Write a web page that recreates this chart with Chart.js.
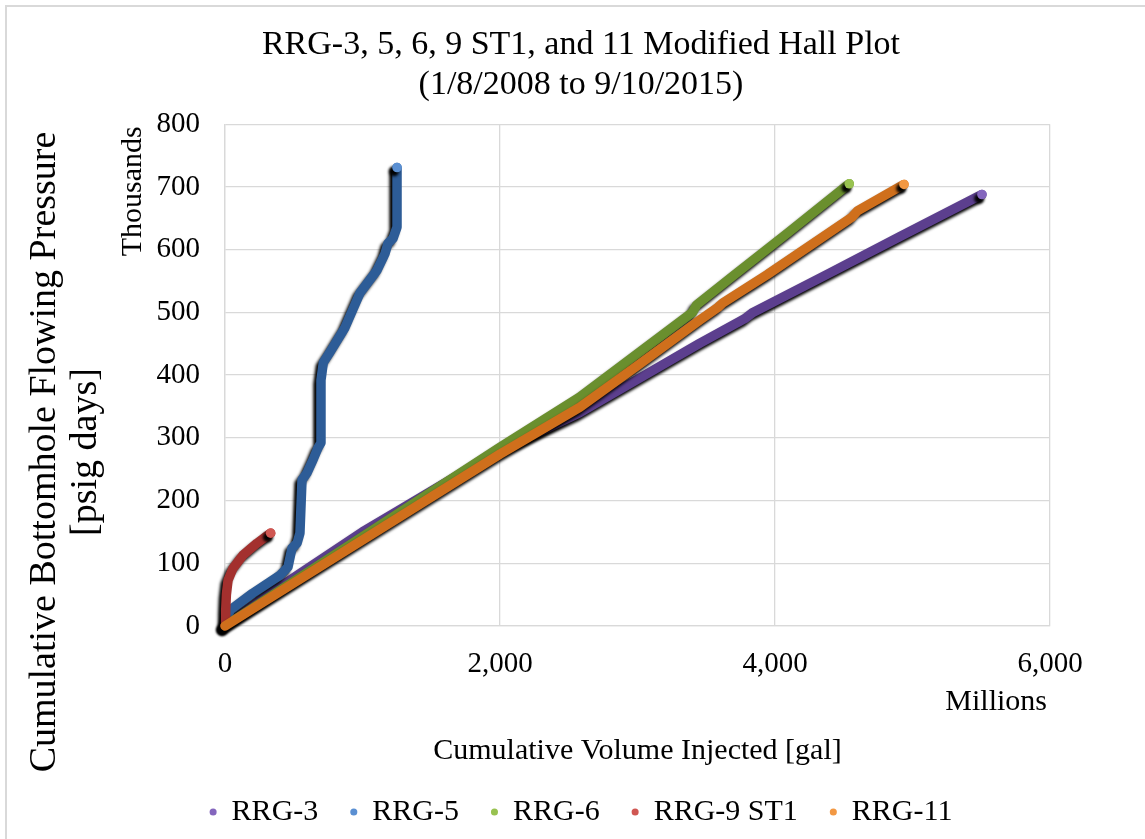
<!DOCTYPE html>
<html>
<head>
<meta charset="utf-8">
<title>RRG Modified Hall Plot</title>
<script src="https://cdn.jsdelivr.net/npm/chart.js@4.4.0/dist/chart.umd.min.js"></script>
<style>
  html, body { margin: 0; padding: 0; background: #ffffff; }
  canvas { display: block; }
</style>
</head>
<body>
<canvas id="hall" width="1145" height="839"></canvas>
<script>
// Cumulative volume injected (millions of gal) vs cumulative bottomhole flowing pressure (thousands of psig days)
const wellNames = ['RRG-3', 'RRG-5', 'RRG-6', 'RRG-9 ST1', 'RRG-11'];

const rrg3Volume   = [0, 300, 1000, 2000, 2580, 3455, 3780, 3840, 4400, 4910, 5505];
const rrg3Pressure = [0, 48, 150, 280, 340, 451, 490, 500, 563, 621, 688];

const rrg5Volume   = [0, 36, 200, 400, 458, 487, 524, 545, 560, 596, 640, 676, 698, 698, 715, 764, 873, 982, 1105, 1164, 1185, 1222, 1251, 1251];
const rrg5Pressure = [0, 25, 52, 81, 94, 124, 132, 148, 233, 244, 265, 284, 292, 392, 420, 437, 476, 531, 567, 594, 610, 618, 636, 731];

const rrg6Volume   = [0, 2000, 2580, 3400, 3430, 3700, 4100, 4540];
const rrg6Pressure = [0, 285, 365, 500, 512, 559, 628, 705];

const rrg9Volume   = [0, 5, 10, 22, 58, 131, 233, 332];
const rrg9Pressure = [0, 25, 50, 73, 92, 113, 132, 148];

const rrg11Volume   = [0, 2000, 2582, 3000, 3455, 3585, 3620, 3942, 4560, 4600, 4938];
const rrg11Pressure = [0, 274, 349, 415, 488, 508, 515, 560, 652, 662, 704];

const xTickValues = [0, 2000, 4000, 6000];
const yTickValues = [0, 100, 200, 300, 400, 500, 600, 700, 800];

const lineColors  = ['#5c3f8e', '#2d5c97', '#6a8f2e', '#a3302e', '#cf6f1c'];
const capColors   = ['#8466bd', '#5a8fd2', '#98c250', '#d05752', '#f29843'];

const SERIF = "'Liberation Serif', 'Times New Roman', serif";

function toPoints(xs, ys) {
  return xs.map((x, i) => ({ x: x, y: ys[i] }));
}

const seriesPoints = [
  toPoints(rrg3Volume, rrg3Pressure),
  toPoints(rrg5Volume, rrg5Pressure),
  toPoints(rrg6Volume, rrg6Pressure),
  toPoints(rrg9Volume, rrg9Pressure),
  toPoints(rrg11Volume, rrg11Pressure)
];

// later wells are painted over earlier ones
const datasets = wellNames.map((name, i) => ({
  label: name,
  data: seriesPoints[i],
  order: wellNames.length - i,
  borderColor: lineColors[i],
  backgroundColor: capColors[i],
  borderWidth: 9.5,
  borderCapStyle: 'round',
  borderJoinStyle: 'round',
  tension: 0,
  fill: false,
  clip: false,
  pointStyle: 'circle',
  pointRadius: (ctx) => (ctx.dataIndex === ctx.dataset.data.length - 1 ? 4.8 : 0),
  pointHoverRadius: 0,
  pointBackgroundColor: capColors[i],
  pointBorderWidth: 0
}));

// dark drop shadow under each plotted line
const lineShadow = {
  id: 'lineShadow',
  beforeDatasetDraw(chart) {
    const ctx = chart.ctx;
    ctx.save();
    ctx.shadowColor = 'rgba(0,0,0,1)';
    ctx.shadowBlur = 3;
    ctx.shadowOffsetX = -3;
    ctx.shadowOffsetY = 4;
  },
  afterDatasetDraw(chart) {
    chart.ctx.restore();
  }
};

// white backdrop, outer frame, axis titles and display-unit labels
const frameAndLabels = {
  id: 'frameAndLabels',
  beforeDraw(chart) {
    const ctx = chart.ctx;
    ctx.save();
    ctx.fillStyle = '#ffffff';
    ctx.fillRect(0, 0, chart.width, chart.height);
    ctx.strokeStyle = '#d9d9d9';
    ctx.lineWidth = 2;
    ctx.beginPath();
    ctx.moveTo(6, chart.height);
    ctx.lineTo(6, 6);
    ctx.lineTo(chart.width, 6);
    ctx.stroke();
    ctx.restore();
  },
  afterDraw(chart) {
    const ctx = chart.ctx;
    const area = chart.chartArea;
    ctx.save();
    ctx.fillStyle = '#000000';

    // display unit on the value axis
    ctx.font = '30px ' + SERIF;
    ctx.save();
    ctx.translate(133, area.top + 2);
    ctx.rotate(-Math.PI / 2);
    ctx.textAlign = 'right';
    ctx.textBaseline = 'middle';
    ctx.fillText('Thousands', 0, 0);
    ctx.restore();

    // display unit on the volume axis
    ctx.textAlign = 'right';
    ctx.textBaseline = 'middle';
    ctx.fillText('Millions', area.right - 3, 702);

    // volume axis title
    ctx.textAlign = 'center';
    ctx.fillText('Cumulative Volume Injected [gal]', (area.left + area.right) / 2, 751);

    // pressure axis title, two lines
    ctx.font = '38px ' + SERIF;
    ctx.save();
    ctx.translate(0, 452);
    ctx.rotate(-Math.PI / 2);
    ctx.textAlign = 'center';
    ctx.textBaseline = 'middle';
    ctx.fillText('Cumulative Bottomhole Flowing Pressure', 0, 45);
    ctx.fillText('[psig days]', 0, 86);
    ctx.restore();

    ctx.restore();
  }
};

const gridColor = '#d9d9d9';

new Chart(document.getElementById('hall'), {
  type: 'line',
  data: { datasets: datasets },
  plugins: [frameAndLabels, lineShadow],
  options: {
    responsive: false,
    animation: false,
    devicePixelRatio: 1,
    events: [],
    layout: { padding: { left: 112, right: 95, top: 7, bottom: 2 } },
    plugins: {
      tooltip: { enabled: false },
      title: {
        display: true,
        text: ['RRG-3, 5, 6, 9 ST1, and 11 Modified Hall Plot', '(1/8/2008 to 9/10/2015)'],
        color: '#000000',
        font: { family: SERIF, size: 34, weight: 'normal', lineHeight: 1.18 },
        padding: { top: 18, bottom: 19 }
      },
      legend: {
        position: 'bottom',
        align: 'center',
        labels: {
          color: '#000000',
          font: { family: SERIF, size: 30 },
          usePointStyle: true,
          boxWidth: 7,
          boxHeight: 5,
          padding: 32,
          generateLabels(chart) {
            const items = Chart.defaults.plugins.legend.labels.generateLabels(chart);
            items.forEach((it) => { it.lineWidth = 0; it.strokeStyle = 'rgba(0,0,0,0)'; });
            return items.sort((a, b) => a.datasetIndex - b.datasetIndex);
          }
        }
      }
    },
    scales: {
      x: {
        type: 'linear',
        position: 'bottom',
        min: xTickValues[0],
        max: xTickValues[xTickValues.length - 1],
        afterBuildTicks(scale) { scale.ticks = xTickValues.map((v) => ({ value: v })); },
        afterFit(scale) { scale.height = 139; },
        grid: { color: gridColor, lineWidth: 1.3, drawTicks: false },
        border: { color: gridColor, width: 1.3 },
        ticks: {
          color: '#000000',
          font: { family: SERIF, size: 29 },
          padding: 21,
          maxRotation: 0,
          callback: (v) => v.toLocaleString('en-US')
        }
      },
      y: {
        type: 'linear',
        position: 'left',
        min: yTickValues[0],
        max: yTickValues[yTickValues.length - 1],
        afterBuildTicks(scale) { scale.ticks = yTickValues.map((v) => ({ value: v })); },
        afterFit(scale) { scale.width = 113; },
        grid: { color: gridColor, lineWidth: 1.3, drawTicks: false },
        border: { color: gridColor, width: 1.3 },
        ticks: {
          color: '#000000',
          font: { family: SERIF, size: 29 },
          padding: 25,
          callback: (v) => v.toLocaleString('en-US')
        }
      }
    }
  }
});
</script>
</body>
</html>
